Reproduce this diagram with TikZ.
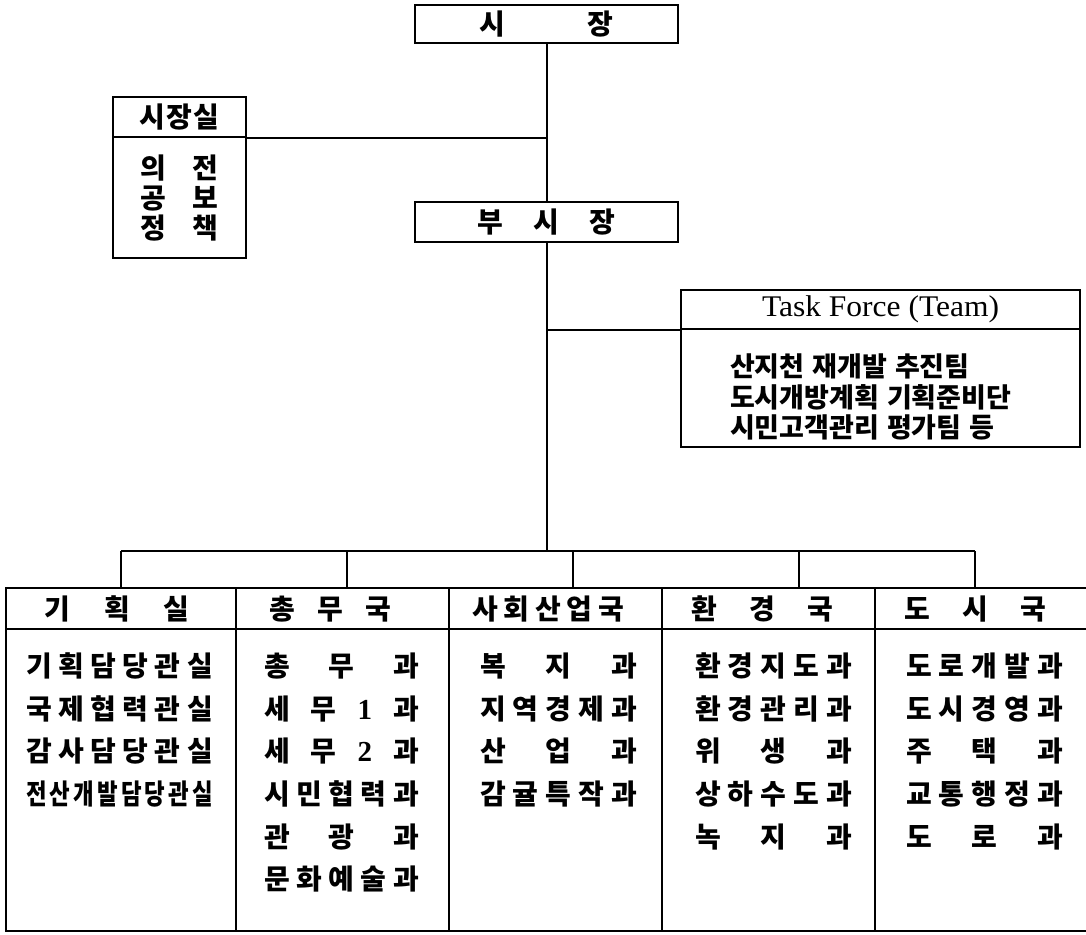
\documentclass[tikz,border=0pt]{standalone}
\usepackage{fontspec}
\setmainfont{Noto Sans CJK KR}
\newfontfamily\krnarrow{Noto Sans CJK KR}[FakeStretch=0.8]
\newfontfamily\latinserif{Liberation Serif}[FakeStretch=1.05]
\newfontfamily\digitfont{Liberation Serif}
\newcommand{\kfont}{\fontsize{28}{32}\selectfont\bfseries}
\newcommand{\tffont}{\fontsize{27}{31}\selectfont\bfseries}
\newcommand{\sprd}[2]{\makebox[#1][s]{#2}}
\begin{document}
\begin{tikzpicture}[x=1pt,y=-1pt,line width=2pt,
  box/.style={draw,rectangle,inner sep=0pt,line width=2pt},
  lbl/.style={inner sep=0pt,font=\kfont},
  cell/.style={inner sep=0pt,anchor=west,text height=21pt,text depth=3pt,font=\kfont},
  tfcell/.style={inner sep=0pt,anchor=west,text height=20pt,text depth=3pt,font=\tffont}]
\clip (0,0) rectangle (1086,934);
\fill[white] (0,0) rectangle (1086,934);

% top
\node[box,minimum width=263pt,minimum height=38pt,font=\kfont] (mayor) at (546.5,24) {\sprd{134pt}{시\hfill 장}};
\node[box,minimum width=263pt,minimum height=40pt,font=\kfont] (vice) at (546.5,222) {\sprd{138pt}{부\hfill 시\hfill 장}};

% mayor's office
\node[box,minimum width=133pt,minimum height=40pt,font=\kfont] (office) at (179.5,117) {\sprd{80pt}{시\hfill 장\hfill 실}};
\node[box,minimum width=133pt,minimum height=121pt] (officebody) at (179.5,197.5) {};
\node[cell] (o1) at (139,169) {\sprd{78pt}{의\hfill 전}};
\node[cell] (o2) at (139,199) {\sprd{78pt}{공\hfill 보}};
\node[cell] (o3) at (139,229) {\sprd{78pt}{정\hfill 책}};

% task force
\node[box,minimum width=399pt,minimum height=39pt,font=\fontsize{30}{34}\selectfont\latinserif] (tf) at (880.5,309.5) {Task Force (Team)};
\node[box,minimum width=399pt,minimum height=118pt] (tfbody) at (880.5,388) {};
\node[tfcell] (tf1) at (729,368) {산지천\hspace{8pt}재개발\hspace{8pt}추진팀};
\node[tfcell] (tf2) at (729,399) {도시개방계획\hspace{8pt}기획준비단};
\node[tfcell] (tf3) at (729,429) {시민고객관리\hspace{8pt}평가팀\hspace{8pt}등};

% bottom columns: headers and bodies
\node[box,minimum width=230pt,minimum height=41pt] (h1) at (121,608.5) {};
\node[box,minimum width=213pt,minimum height=41pt] (h2) at (342.5,608.5) {};
\node[box,minimum width=213pt,minimum height=41pt] (h3) at (555.5,608.5) {};
\node[box,minimum width=213pt,minimum height=41pt] (h4) at (768.5,608.5) {};
\node[box,minimum width=230pt,minimum height=41pt] (h5) at (990,608.5) {};
\node[box,minimum width=230pt,minimum height=302pt] (b1) at (121,780) {};
\node[box,minimum width=213pt,minimum height=302pt] (b2) at (342.5,780) {};
\node[box,minimum width=213pt,minimum height=302pt] (b3) at (555.5,780) {};
\node[box,minimum width=213pt,minimum height=302pt] (b4) at (768.5,780) {};
\node[box,minimum width=230pt,minimum height=302pt] (b5) at (990,780) {};

\node[lbl] (t1) at (117,609) {\sprd{145pt}{기\hfill 획\hfill 실}};
\node[lbl] (t2) at (330,609) {\sprd{122pt}{총\hfill 무\hfill 국}};
\node[lbl] (t3) at (548,609) {\sprd{152pt}{사\hfill 회\hfill 산\hfill 업\hfill 국}};
\node[lbl] (t4) at (762,609) {\sprd{142pt}{환\hfill 경\hfill 국}};
\node[lbl] (t5) at (975,609) {\sprd{142pt}{도\hfill 시\hfill 국}};

% column 1
\node[cell] (c11) at (25,667) {\sprd{187pt}{기\hfill 획\hfill 담\hfill 당\hfill 관\hfill 실}};
\node[cell] (c12) at (25,710) {\sprd{187pt}{국\hfill 제\hfill 협\hfill 력\hfill 관\hfill 실}};
\node[cell] (c13) at (25,752) {\sprd{187pt}{감\hfill 사\hfill 담\hfill 당\hfill 관\hfill 실}};
\node[cell,font=\fontsize{28}{32}\selectfont\krnarrow\bfseries] (c14) at (25,795) {\sprd{187pt}{전\hfill 산\hfill 개\hfill 발\hfill 담\hfill 당\hfill 관\hfill 실}};
% column 2
\node[cell] (c21) at (263,667) {\sprd{155pt}{총\hfill 무\hfill 과}};
\node[cell] (c22) at (263,710) {\sprd{155pt}{세\hfill 무\hfill {\fontsize{29}{32}\digitfont 1}\hfill 과}};
\node[cell] (c23) at (263,752) {\sprd{155pt}{세\hfill 무\hfill {\fontsize{29}{32}\digitfont 2}\hfill 과}};
\node[cell] (c24) at (263,795) {\sprd{155pt}{시\hfill 민\hfill 협\hfill 력\hfill 과}};
\node[cell] (c25) at (263,838) {\sprd{155pt}{관\hfill 광\hfill 과}};
\node[cell] (c26) at (263,880) {\sprd{155pt}{문\hfill 화\hfill 예\hfill 술\hfill 과}};
% column 3
\node[cell] (c31) at (479,667) {\sprd{157pt}{복\hfill 지\hfill 과}};
\node[cell] (c32) at (479,710) {\sprd{157pt}{지\hfill 역\hfill 경\hfill 제\hfill 과}};
\node[cell] (c33) at (479,752) {\sprd{157pt}{산\hfill 업\hfill 과}};
\node[cell] (c34) at (479,795) {\sprd{157pt}{감\hfill 귤\hfill 특\hfill 작\hfill 과}};
% column 4
\node[cell] (c41) at (694,667) {\sprd{157pt}{환\hfill 경\hfill 지\hfill 도\hfill 과}};
\node[cell] (c42) at (694,710) {\sprd{157pt}{환\hfill 경\hfill 관\hfill 리\hfill 과}};
\node[cell] (c43) at (694,752) {\sprd{157pt}{위\hfill 생\hfill 과}};
\node[cell] (c44) at (694,795) {\sprd{157pt}{상\hfill 하\hfill 수\hfill 도\hfill 과}};
\node[cell] (c45) at (694,838) {\sprd{157pt}{녹\hfill 지\hfill 과}};
% column 5
\node[cell] (c51) at (905,667) {\sprd{157pt}{도\hfill 로\hfill 개\hfill 발\hfill 과}};
\node[cell] (c52) at (905,710) {\sprd{157pt}{도\hfill 시\hfill 경\hfill 영\hfill 과}};
\node[cell] (c53) at (905,752) {\sprd{157pt}{주\hfill 택\hfill 과}};
\node[cell] (c54) at (905,795) {\sprd{157pt}{교\hfill 통\hfill 행\hfill 정\hfill 과}};
\node[cell] (c55) at (905,838) {\sprd{157pt}{도\hfill 로\hfill 과}};

% connectors
\coordinate (bus) at (546.5,551);
\coordinate (d1) at (121,551);
\coordinate (d2) at (347,551);
\coordinate (d3) at (573,551);
\coordinate (d4) at (799,551);
\coordinate (d5) at (975,551);
\draw (mayor.south) -- (vice.north);
\draw (office.south east) -- (office.south east -| mayor.south);
\draw (vice.south) -- (bus);
\draw (tf.south west) -- (tf.south west -| vice.south);
\draw (d1) -- (d5);
\draw (d1) -- (d1 |- h1.north);
\draw (d2) -- (d2 |- h2.north);
\draw (d3) -- (d3 |- h3.north);
\draw (d4) -- (d4 |- h4.north);
\draw (d5) -- (d5 |- h5.north);
\end{tikzpicture}
\end{document}
